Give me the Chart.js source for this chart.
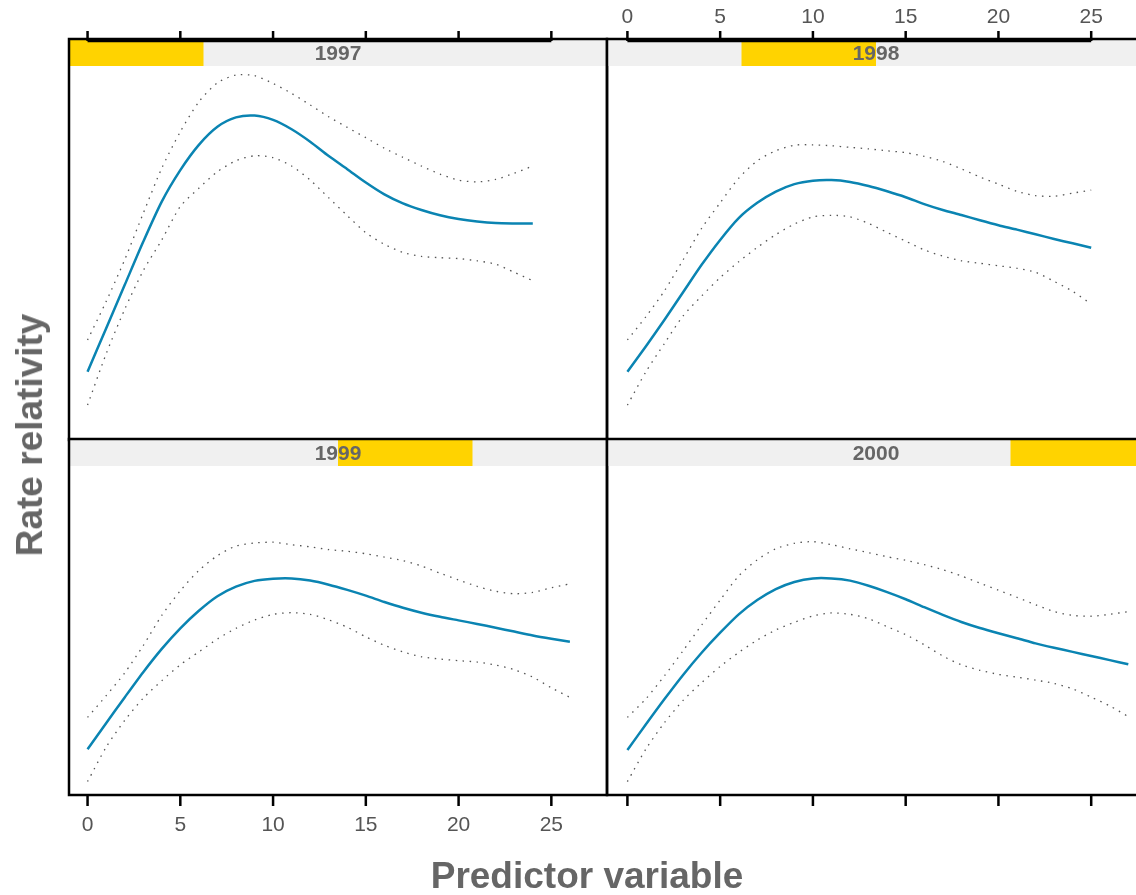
<!DOCTYPE html>
<html>
<head>
<meta charset="utf-8">
<title>Rate relativity by year</title>
<script src="https://cdn.jsdelivr.net/npm/chart.js@4/dist/chart.umd.min.js"></script>
<style>
  html, body { margin: 0; padding: 0; background: #fff; overflow: hidden; }
  #wrap { position: relative; width: 1136px; height: 895px; overflow: hidden; }
  #wrap canvas { position: absolute; left: 0; top: 0; }
  .ttl { position: absolute; font-family: "Liberation Sans", Arial, sans-serif; font-weight: bold;
         color: #666; font-size: 37px; white-space: nowrap; line-height: 40px; }
  #xTitle { left: 0; width: 1174px; text-align: center; top: 856px; }
  #yTitle { left: 30px; top: 435px; transform: translate(-50%, -50%) rotate(-90deg); }
</style>
</head>
<body>
<div id="wrap">
  <canvas id="p1997" width="1160" height="895"></canvas>
  <canvas id="p1998" width="1160" height="895"></canvas>
  <canvas id="p1999" width="1160" height="895"></canvas>
  <canvas id="p2000" width="1160" height="895"></canvas>
  <div class="ttl" id="xTitle">Predictor variable</div>
  <div class="ttl" id="yTitle">Rate relativity</div>
</div>
<script>
// predictor values and axis ticks
const xPos = [0, 1, 2, 3, 4, 5, 6, 7, 8, 9, 10, 11, 12, 13, 14, 15, 16, 17, 18, 19, 20, 21, 22, 23, 24, 25, 26, 27];
const xTicks = [0, 5, 10, 15, 20, 25];
const years = ['1997', '1998', '1999', '2000'];

// fitted rate relativity and confidence band per year
const fit1997   = [0.619, 0.758, 0.897, 1.036, 1.165, 1.266, 1.347, 1.405, 1.435, 1.441, 1.427, 1.397, 1.357, 1.311, 1.269, 1.226, 1.188, 1.159, 1.138, 1.121, 1.109, 1.101, 1.096, 1.095, 1.095];
const upper1997 = [0.721, 0.844, 0.978, 1.127, 1.272, 1.389, 1.485, 1.546, 1.571, 1.569, 1.544, 1.512, 1.475, 1.437, 1.403, 1.370, 1.336, 1.307, 1.279, 1.253, 1.234, 1.228, 1.236, 1.256, 1.279];
const lower1997 = [0.512, 0.676, 0.819, 0.943, 1.042, 1.149, 1.208, 1.261, 1.296, 1.312, 1.306, 1.279, 1.234, 1.177, 1.120, 1.065, 1.028, 1.002, 0.989, 0.985, 0.982, 0.975, 0.964, 0.938, 0.911];

const fit1998   = [0.619, 0.701, 0.786, 0.874, 0.962, 1.042, 1.112, 1.161, 1.197, 1.221, 1.232, 1.234, 1.228, 1.215, 1.198, 1.179, 1.157, 1.138, 1.122, 1.105, 1.089, 1.075, 1.060, 1.045, 1.031, 1.017];
const upper1998 = [0.721, 0.796, 0.879, 0.978, 1.079, 1.161, 1.240, 1.296, 1.328, 1.346, 1.347, 1.344, 1.339, 1.334, 1.328, 1.322, 1.310, 1.294, 1.270, 1.244, 1.221, 1.198, 1.184, 1.182, 1.192, 1.202];
const lower1998 = [0.512, 0.619, 0.710, 0.798, 0.862, 0.921, 0.972, 1.018, 1.059, 1.093, 1.116, 1.121, 1.116, 1.095, 1.066, 1.038, 1.010, 0.990, 0.975, 0.967, 0.959, 0.951, 0.938, 0.909, 0.877, 0.836];

const fit1999   = [0.567, 0.662, 0.756, 0.848, 0.933, 1.008, 1.072, 1.125, 1.160, 1.181, 1.189, 1.190, 1.182, 1.167, 1.148, 1.127, 1.104, 1.083, 1.065, 1.050, 1.037, 1.024, 1.010, 0.996, 0.982, 0.970, 0.959];
const upper1999 = [0.683, 0.762, 0.845, 0.945, 1.055, 1.145, 1.219, 1.273, 1.308, 1.319, 1.322, 1.313, 1.305, 1.295, 1.289, 1.280, 1.268, 1.255, 1.235, 1.209, 1.184, 1.161, 1.143, 1.134, 1.139, 1.156, 1.170];
const lower1999 = [0.449, 0.574, 0.672, 0.753, 0.817, 0.875, 0.922, 0.969, 1.008, 1.038, 1.059, 1.065, 1.059, 1.039, 1.012, 0.977, 0.946, 0.922, 0.904, 0.896, 0.890, 0.885, 0.874, 0.857, 0.830, 0.791, 0.756];

const fit2000   = [0.564, 0.658, 0.750, 0.838, 0.919, 0.992, 1.059, 1.111, 1.151, 1.177, 1.190, 1.190, 1.182, 1.163, 1.140, 1.114, 1.085, 1.057, 1.031, 1.009, 0.990, 0.972, 0.953, 0.937, 0.922, 0.907, 0.892, 0.877];
const upper2000 = [0.683, 0.751, 0.835, 0.926, 1.020, 1.111, 1.199, 1.258, 1.298, 1.318, 1.324, 1.313, 1.298, 1.284, 1.269, 1.256, 1.240, 1.222, 1.199, 1.173, 1.147, 1.121, 1.094, 1.069, 1.055, 1.052, 1.059, 1.069];
const lower2000 = [0.449, 0.568, 0.664, 0.745, 0.810, 0.869, 0.920, 0.965, 1.002, 1.030, 1.053, 1.064, 1.059, 1.043, 1.014, 0.985, 0.948, 0.907, 0.875, 0.855, 0.840, 0.830, 0.819, 0.807, 0.787, 0.757, 0.725, 0.686];

const FONT = '"Liberation Sans", Arial, sans-serif';
const STRIP = 26;

function pts(ys) {
  return ys.map((y, i) => ({ x: xPos[i], y: y }));
}

// strip, panel box and lattice style axis ticks
function decoPlugin(p) {
  return {
    id: 'deco',
    afterDraw(chart) {
      const ctx = chart.ctx;
      const a = chart.chartArea;
      const xs = chart.scales.x;
      const top = a.top - STRIP;
      const w = a.right - a.left;
      ctx.save();
      ctx.fillStyle = '#f0f0f0';
      ctx.fillRect(a.left, top, w, STRIP);
      ctx.fillStyle = '#ffd300';
      ctx.fillRect(a.left + w / 4 * p.level, top, w / 4, STRIP);
      ctx.fillStyle = '#666';
      ctx.font = 'bold 21px ' + FONT;
      ctx.textAlign = 'center';
      ctx.textBaseline = 'middle';
      ctx.fillText(p.year, (a.left + a.right) / 2, top + STRIP / 2 + 1);

      ctx.strokeStyle = '#000';
      ctx.lineWidth = 2.5;
      ctx.strokeRect(a.left, top - 1, w, a.bottom - top + 1);

      const tx = xTicks.map(v => xs.getPixelForValue(v));
      ctx.lineWidth = 2.5;
      ctx.beginPath();
      if (p.topAxis) {
        const y0 = top + 1;
        ctx.moveTo(tx[0], y0);
        ctx.lineTo(tx[tx.length - 1], y0);
        tx.forEach(x => { ctx.moveTo(x, y0); ctx.lineTo(x, y0 - 10); });
      } else {
        tx.forEach(x => { ctx.moveTo(x, a.bottom); ctx.lineTo(x, a.bottom + 11); });
      }
      ctx.stroke();

      if (p.labels) {
        ctx.fillStyle = '#555';
        ctx.font = '21px ' + FONT;
        const ly = p.topAxis ? 17 : a.bottom + 30;
        xTicks.forEach((v, i) => ctx.fillText(String(v), tx[i], ly));
      }
      ctx.restore();
    }
  };
}

function makePanel(id, fit, upper, lower, p) {
  const band = {
    borderColor: '#555',
    borderWidth: 1.3,
    borderDash: [1.5, 5.5],
    pointRadius: 0,
    tension: 0.25,
    fill: false
  };
  new Chart(document.getElementById(id), {
    type: 'line',
    data: {
      datasets: [
        Object.assign({ label: 'upper', data: pts(upper) }, band),
        Object.assign({ label: 'lower', data: pts(lower) }, band),
        {
          label: 'fit',
          data: pts(fit),
          borderColor: '#0a84b2',
          borderWidth: 2.5,
          pointRadius: 0,
          tension: 0.25,
          fill: false
        }
      ]
    },
    options: {
      responsive: false,
      animation: false,
      events: [],
      layout: {
        padding: { left: p.left, top: p.top, right: 1160 - p.right, bottom: 895 - p.bottom }
      },
      scales: {
        x: { type: 'linear', display: false, min: p.xmin, max: p.xmax },
        y: { display: false, min: 0.4, max: 1.6 }
      },
      plugins: { legend: { display: false }, tooltip: { enabled: false } }
    },
    plugins: [decoPlugin(p)]
  });
}

makePanel('p1997', fit1997, upper1997, lower1997,
  { year: years[0], level: 0, left: 69, right: 607, top: 66, bottom: 440, xmin: -1.0, xmax: 28.0, topAxis: true, labels: false });
makePanel('p1998', fit1998, upper1998, lower1998,
  { year: years[1], level: 1, left: 607, right: 1145, top: 66, bottom: 440, xmin: -1.1, xmax: 27.9, topAxis: true, labels: true });
makePanel('p1999', fit1999, upper1999, lower1999,
  { year: years[2], level: 2, left: 69, right: 607, top: 466, bottom: 795, xmin: -1.0, xmax: 28.0, topAxis: false, labels: true });
makePanel('p2000', fit2000, upper2000, lower2000,
  { year: years[3], level: 3, left: 607, right: 1145, top: 466, bottom: 795, xmin: -1.1, xmax: 27.9, topAxis: false, labels: false });
</script>
</body>
</html>
